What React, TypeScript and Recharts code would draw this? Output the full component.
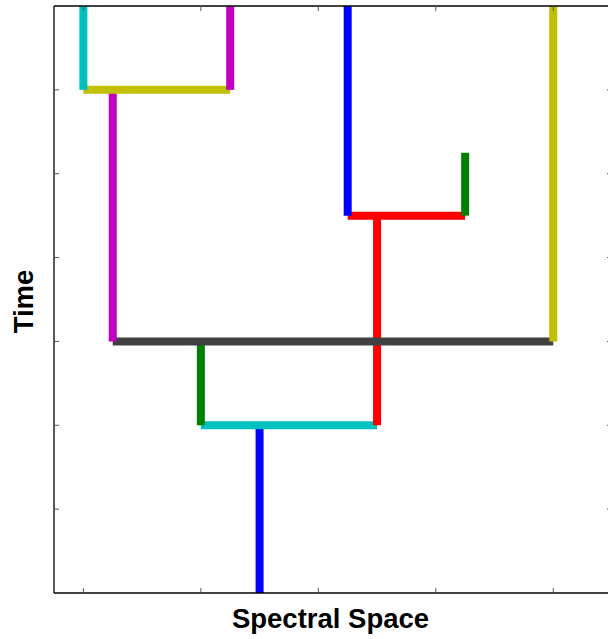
import React from 'react'
import { ComposedChart, Line, XAxis, YAxis } from 'recharts'

// branches of the tree: start/end in spectral space (x) and time (y)
const branchX0 = [2.5, 2, 2, 3.5, 1.25, 1.25, 5, 3.25, 3.25, 4.25, 1, 1, 2.25]
const branchX1 = [2.5, 3.5, 2, 3.5, 5, 1.25, 5, 4.25, 3.25, 4.25, 2.25, 1, 2.25]
const branchY0 = [0, 2, 2, 2, 3, 3, 3, 4.5, 4.5, 4.5, 6, 6, 6]
const branchY1 = [2, 2, 3, 4.5, 3, 6, 7, 4.5, 7, 5.25, 6, 7, 7]

const xTicks = [1, 2, 3, 4, 5]
const yTicks = [1, 2, 3, 4, 5, 6]

const BRANCH_COLORS = [
  '#0000ff', '#00c0c0', '#008000', '#ff0000', '#404040', '#c000c0', '#c0c000',
  '#ff0000', '#0000ff', '#008000', '#c0c000', '#00c0c0', '#c000c0',
]

const FONT = '"Liberation Sans", Arial, sans-serif'
const axisLine = { stroke: '#000', strokeWidth: 1.3 }
const tickLine = { stroke: '#555', strokeWidth: 1 }

const branches = branchX0.map((x0, i) => [
  { x: x0, y: branchY0[i] },
  { x: branchX1[i], y: branchY1[i] },
])

export default function App() {
  return (
    <div
      style={{
        position: 'absolute',
        left: 0,
        top: 0,
        width: 608,
        height: 639,
        overflow: 'hidden',
        background: '#fff',
      }}
    >
      <ComposedChart
        width={622}
        height={639}
        margin={{ top: 0, right: 0, bottom: 0, left: 0 }}
      >
        <XAxis
          xAxisId="bottom"
          type="number"
          dataKey="x"
          domain={[0.75, 5.5]}
          ticks={xTicks}
          allowDataOverflow
          height={46}
          tickSize={-5}
          tickFormatter={() => ''}
          axisLine={axisLine}
          tickLine={tickLine}
          label={{
            content: (props: any) => {
              const vb = props.viewBox
              return (
                <text
                  x={vb.x + vb.width / 2 - 2.5}
                  y={vb.y + 35}
                  textAnchor="middle"
                  style={{ fontFamily: FONT, fontWeight: 700, fontSize: 27.5, fill: '#000' }}
                >
                  Spectral Space
                </text>
              )
            },
          }}
        />
        <XAxis
          xAxisId="top"
          orientation="top"
          type="number"
          dataKey="x"
          domain={[0.75, 5.5]}
          ticks={xTicks}
          allowDataOverflow
          height={6}
          tickSize={-5}
          tickFormatter={() => ''}
          axisLine={axisLine}
          tickLine={tickLine}
        />
        <YAxis
          yAxisId="left"
          type="number"
          domain={[0, 7]}
          ticks={yTicks}
          allowDataOverflow
          width={54}
          tickSize={-5}
          tickFormatter={() => ''}
          axisLine={axisLine}
          tickLine={tickLine}
          label={{
            content: (props: any) => {
              const vb = props.viewBox
              const cx = vb.x + vb.width - 21.5
              const cy = vb.y + vb.height / 2 + 2
              return (
                <text
                  x={cx}
                  y={cy}
                  textAnchor="middle"
                  transform={`rotate(-90 ${cx} ${cy})`}
                  style={{ fontFamily: FONT, fontWeight: 700, fontSize: 27.5, fill: '#000' }}
                >
                  Time
                </text>
              )
            },
          }}
        />
        <YAxis
          yAxisId="right"
          orientation="right"
          type="number"
          domain={[0, 7]}
          ticks={yTicks}
          allowDataOverflow
          width={10}
          tickSize={-5}
          tickFormatter={() => ''}
          axisLine={axisLine}
          tickLine={tickLine}
        />
        {branches.map((pts, i) => (
          <Line
            key={i}
            xAxisId="bottom"
            yAxisId="left"
            data={pts}
            dataKey="y"
            type="linear"
            stroke={BRANCH_COLORS[i]}
            strokeWidth={8}
            strokeLinecap="butt"
            dot={false}
            activeDot={false}
            legendType="none"
            isAnimationActive={false}
          />
        ))}
      </ComposedChart>
    </div>
  )
}
